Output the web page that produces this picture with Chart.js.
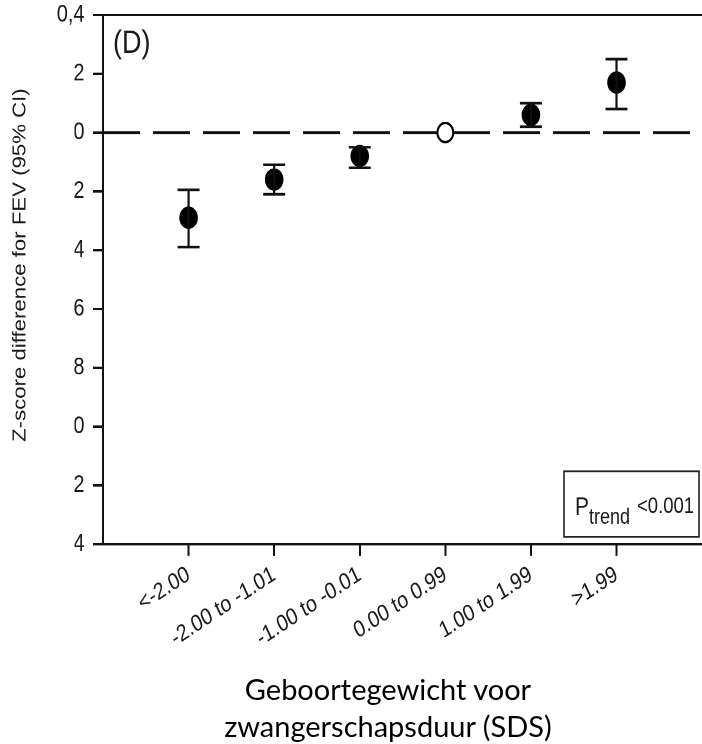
<!DOCTYPE html>
<html>
<head>
<meta charset="utf-8">
<script src="https://cdn.jsdelivr.net/npm/chart.js@4.4.1/dist/chart.umd.min.js"></script>
<style>
  html, body { margin: 0; padding: 0; background: #fff; overflow: hidden; }
  #wrap { position: relative; width: 702px; height: 744px; overflow: hidden; background: #fff; }
  #c { position: absolute; left: 0; top: 0; width: 712px; height: 560px;
       transform: scaleY(1.2); transform-origin: 0 0; }
  #xtitle { position: absolute; left: 188px; top: 670px; width: 400px; text-align: center;
            font-family: Lato, "Open Sans", sans-serif; font-size: 29px; line-height: 37px; color: #000; }
</style>
</head>
<body>
<div id="wrap">
  <canvas id="c" width="712" height="560"></canvas>
  <div id="xtitle">Geboortegewicht voor<br>zwangerschapsduur (SDS)</div>
</div>
<script>
// Birth-weight-for-gestational-age groups (SDS)
const categories = ['<-2.00', '-2.00 to -1.01', '-1.00 to -0.01', '0.00 to 0.99', '1.00 to 1.99', '>1.99'];
// Z-score difference for FEV and its 95% CI
const estimate = [-0.29, -0.16, -0.08, 0, 0.06, 0.17];
const ciLower  = [-0.39, -0.21, -0.12, null, 0.02, 0.08];
const ciUpper  = [-0.195, -0.11, -0.05, null, 0.10, 0.25];
const referenceIndex = 3;

const yTickValues = [-1.4, -1.2, -1.0, -0.8, -0.6, -0.4, -0.2, 0, 0.2, 0.4];
const yTickLabels = ['-1,4', '-1,2', '-1,0', '-0,8', '-0,6', '-0,4', '-0,2', '0,0', '0,2', '0,4'];

const panelLabel = '(D)';
const yTitle = 'Z-score difference for FEV (95% CI)';
const pLabel = { main: 'P', sub: 'trend', sup: '<0.001' };

const INK = '#111';
const FONT = '"Liberation Sans", Arial, sans-serif';

const filledPoints = [];
categories.forEach((c, i) => { if (i !== referenceIndex) filledPoints.push({ x: i, y: estimate[i] }); });

// vertical CI whiskers with caps
const errorBars = {
  id: 'errorBars',
  afterDatasetsDraw(chart) {
    const { ctx, scales: { x, y } } = chart;
    ctx.save();
    ctx.strokeStyle = INK;
    ctx.lineWidth = 2.2;
    categories.forEach((c, i) => {
      if (ciLower[i] == null) return;
      const px = x.getPixelForValue(i);
      const top = y.getPixelForValue(ciUpper[i]);
      const bot = y.getPixelForValue(ciLower[i]);
      ctx.beginPath();
      ctx.moveTo(px, top); ctx.lineTo(px, bot);
      ctx.moveTo(px - 11, top); ctx.lineTo(px + 11, top);
      ctx.moveTo(px - 11, bot); ctx.lineTo(px + 11, bot);
      ctx.stroke();
    });
    ctx.restore();
  }
};

// panel letter, axis title, trend box, and the cover strip over the tick-label column
const decorations = {
  id: 'decorations',
  afterDraw(chart) {
    const { ctx, chartArea: a, scales: { y } } = chart;
    ctx.save();
    // white strip hiding the leading characters of the lower tick labels
    ctx.fillStyle = '#fff';
    ctx.fillRect(34, y.getPixelForValue(0.3), 40.5, y.getPixelForValue(-1.4) - y.getPixelForValue(0.3) + 14);

    ctx.fillStyle = '#1a1a1a';
    ctx.textBaseline = 'middle';
    ctx.textAlign = 'left';
    ctx.font = '27px ' + FONT;
    ctx.fillText(panelLabel, a.left + 10, a.top + 24);

    ctx.save();
    ctx.translate(20.5, (a.top + a.bottom) / 2 - 12);
    ctx.rotate(-Math.PI / 2);
    ctx.textAlign = 'center';
    ctx.font = '18.5px ' + FONT;
    ctx.fillText(yTitle, 0, 0);
    ctx.restore();

    // trend box
    const bx = 564, by = a.bottom - 60.5, bw = 135, bh = 54.5;
    ctx.strokeStyle = '#222';
    ctx.lineWidth = 1.6;
    ctx.strokeRect(bx, by, bw, bh);
    ctx.textBaseline = 'alphabetic';
    ctx.font = '21px ' + FONT;
    ctx.fillText(pLabel.main, bx + 11, by + 36);
    const pw = ctx.measureText(pLabel.main).width;
    ctx.font = '18px ' + FONT;
    ctx.fillText(pLabel.sub, bx + 11 + pw, by + 43.5);
    ctx.font = '18.5px ' + FONT;
    ctx.fillText(pLabel.sup, bx + 73, by + 34.5);
    ctx.restore();
  }
};

new Chart(document.getElementById('c'), {
  type: 'scatter',
  data: {
    datasets: [
      {
        type: 'line',
        data: [{ x: -1, y: 0 }, { x: 6, y: 0 }],
        borderColor: INK, borderWidth: 2.4, borderDash: [37, 13],
        pointRadius: 0, fill: false, order: 3
      },
      {
        data: filledPoints,
        pointRadius: 8.8, pointBackgroundColor: '#000', pointBorderColor: '#000', pointBorderWidth: 1,
        order: 2
      },
      {
        data: [{ x: referenceIndex, y: estimate[referenceIndex] }],
        pointRadius: 7.9, pointBackgroundColor: '#fff', pointBorderColor: '#000', pointBorderWidth: 2,
        order: 1
      }
    ]
  },
  options: {
    responsive: false,
    devicePixelRatio: 2,
    animation: false,
    layout: { padding: { top: 12.5, right: 3.5, left: 0, bottom: 0 } },
    plugins: { legend: { display: false }, tooltip: { enabled: false } },
    scales: {
      x: {
        type: 'linear', min: -1, max: 6,
        afterFit: s => { s.height = 106.7; s.paddingLeft = 0; s.paddingRight = 0; },
        afterBuildTicks: s => { s.ticks = categories.map((c, i) => ({ value: i })); },
        ticks: {
          callback: v => categories[v],
          autoSkip: false, minRotation: 29, maxRotation: 29,
          font: { family: FONT, size: 19.5 }, color: '#1a1a1a', padding: 4
        },
        grid: { drawOnChartArea: false, drawTicks: true, tickLength: 10, tickWidth: 2, tickColor: INK },
        border: { color: INK, width: 2 }
      },
      y: {
        type: 'linear', min: -1.4, max: 0.4,
        afterFit: s => { s.width = 103; s.paddingTop = 0; s.paddingBottom = 0; },
        afterBuildTicks: s => { s.ticks = yTickValues.map(v => ({ value: v })); },
        ticks: {
          callback: (v, i) => yTickLabels[i],
          font: { family: FONT, size: 20 }, color: '#1a1a1a', padding: 8.5
        },
        grid: {
          drawOnChartArea: true,
          color: c => (c.tick && c.tick.value === yTickValues[yTickValues.length - 1]) ? INK : 'rgba(0,0,0,0)',
          lineWidth: 2, tickLength: 10, tickWidth: 2, tickColor: INK
        },
        border: { color: INK, width: 2 }
      }
    }
  },
  plugins: [errorBars, decorations]
});
</script>
</body>
</html>
